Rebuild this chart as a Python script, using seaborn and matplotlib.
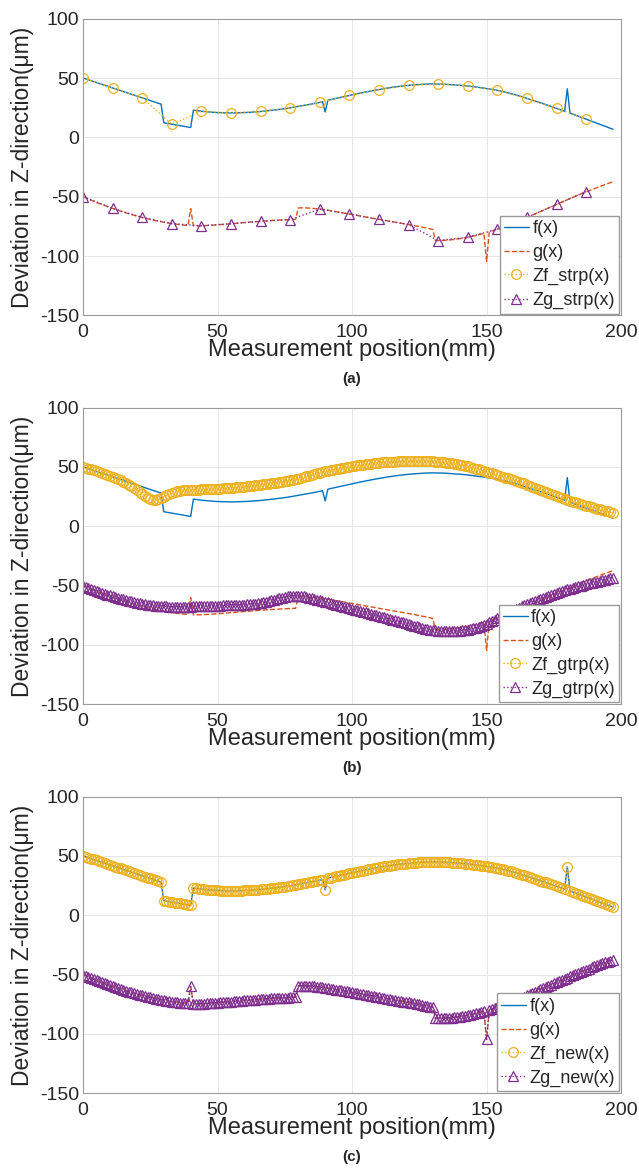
import matplotlib
matplotlib.use("Agg")
import matplotlib.pyplot as plt
import seaborn as sns

# measurement positions (mm)
x_pos = list(range(198))

# measured profiles
f_vals = [50.0, 49.2, 48.5, 47.7, 47.0, 46.2, 45.4, 44.7, 43.9, 43.2,
          42.4, 41.6, 40.9, 40.1, 39.4, 38.6, 37.8, 37.1, 36.3, 35.6,
          34.8, 34.0, 33.3, 32.5, 31.8, 31.0, 30.2, 29.5, 28.7, 28.0,
          12.3, 11.9, 11.5, 11.1, 10.7, 10.3, 9.9, 9.5, 9.1, 8.7,
          8.3, 22.9, 22.6, 22.3, 22.0, 21.8, 21.6, 21.4, 21.2, 21.0,
          20.9, 20.8, 20.7, 20.7, 20.6, 20.6, 20.6, 20.6, 20.7, 20.8,
          20.9, 21.0, 21.1, 21.3, 21.5, 21.6, 21.8, 22.0, 22.3, 22.5,
          22.8, 23.0, 23.3, 23.6, 23.9, 24.2, 24.5, 24.9, 25.3, 25.7,
          26.1, 26.5, 26.9, 27.3, 27.7, 28.1, 28.6, 29.0, 29.5, 30.0,
          21.4, 31.3, 31.8, 32.3, 32.8, 33.3, 33.8, 34.3, 34.8, 35.3,
          35.8, 36.3, 36.8, 37.3, 37.7, 38.2, 38.6, 39.1, 39.5, 39.9,
          40.3, 40.7, 41.1, 41.5, 41.8, 42.2, 42.5, 42.8, 43.1, 43.3,
          43.6, 43.8, 44.0, 44.2, 44.4, 44.5, 44.7, 44.8, 44.9, 45.0,
          45.0, 45.0, 44.9, 44.9, 44.8, 44.7, 44.5, 44.4, 44.2, 44.0,
          43.9, 43.7, 43.5, 43.3, 43.0, 42.7, 42.4, 42.1, 41.8, 41.5,
          41.1, 40.8, 40.4, 40.0, 39.6, 39.1, 38.6, 38.1, 37.5, 36.9,
          36.3, 35.7, 35.0, 34.3, 33.6, 32.8, 32.1, 31.4, 30.6, 29.9,
          29.1, 28.4, 27.6, 26.8, 26.0, 25.2, 24.4, 23.6, 22.8, 22.0,
          41.0, 20.4, 19.6, 18.7, 17.9, 17.0, 16.2, 15.3, 14.5, 13.6,
          12.8, 11.9, 11.1, 10.2, 9.4, 8.5, 7.7, 6.8]

g_vals = [-50.0, -51.0, -52.0, -52.9, -53.9, -54.8, -55.7, -56.6, -57.5, -58.3,
          -59.1, -59.9, -60.7, -61.5, -62.2, -63.0, -63.7, -64.4, -65.0, -65.7,
          -66.3, -66.9, -67.5, -68.1, -68.7, -69.2, -69.7, -70.2, -70.7, -71.1,
          -71.5, -71.9, -72.3, -72.7, -73.0, -73.3, -73.6, -73.9, -74.1, -74.3,
          -60.0, -74.6, -74.6, -74.6, -74.5, -74.4, -74.3, -74.2, -74.0, -73.9,
          -73.7, -73.5, -73.4, -73.2, -73.0, -72.8, -72.6, -72.4, -72.2, -72.0,
          -71.8, -71.6, -71.4, -71.3, -71.1, -70.9, -70.7, -70.6, -70.4, -70.3,
          -70.1, -70.0, -69.9, -69.7, -69.6, -69.5, -69.4, -69.3, -69.2, -69.1,
          -59.5, -59.4, -59.4, -59.5, -59.6, -59.8, -60.0, -60.2, -60.5, -60.8,
          -61.1, -61.5, -61.8, -62.2, -62.6, -63.0, -63.4, -63.8, -64.2, -64.6,
          -65.0, -65.4, -65.8, -66.3, -66.7, -67.1, -67.5, -67.9, -68.3, -68.7,
          -69.1, -69.5, -69.9, -70.3, -70.7, -71.1, -71.5, -71.9, -72.3, -72.7,
          -73.1, -73.5, -73.9, -74.3, -74.8, -75.2, -75.7, -76.1, -76.6, -77.1,
          -77.6, -87.0, -87.0, -86.9, -86.8, -86.7, -86.5, -86.3, -86.0, -85.7,
          -85.4, -85.0, -84.6, -84.2, -83.7, -83.2, -82.7, -82.1, -81.5, -80.9,
          -104.5, -79.6, -78.9, -78.2, -77.4, -76.6, -75.8, -75.0, -74.1, -73.2,
          -72.3, -71.4, -70.4, -69.5, -68.5, -67.5, -66.5, -65.5, -64.5, -63.5,
          -62.5, -61.5, -60.5, -59.5, -58.5, -57.5, -56.5, -55.5, -54.5, -53.5,
          -52.5, -51.5, -50.5, -49.6, -48.6, -47.7, -46.7, -45.8, -44.9, -44.0,
          -43.1, -42.3, -41.4, -40.6, -39.8, -39.0, -38.2, -37.4]

# gtrp reconstruction (panel b)
zf_gtrp = [50.0, 49.3, 48.6, 47.9, 47.2, 46.5, 45.8, 45.0, 44.3, 43.5,
           42.6, 41.6, 40.6, 39.6, 38.6, 37.5, 36.4, 35.2, 34.0, 32.4,
           30.6, 28.8, 27.0, 25.4, 24.0, 23.0, 22.5, 22.4, 22.8, 23.6,
           24.8, 26.2, 27.4, 28.3, 29.0, 29.6, 30.0, 30.3, 30.5, 30.7,
           30.8, 30.9, 31.0, 31.0, 31.1, 31.2, 31.3, 31.4, 31.5, 31.6,
           31.7, 31.8, 32.0, 32.1, 32.3, 32.4, 32.6, 32.7, 32.9, 33.1,
           33.3, 33.6, 33.8, 34.1, 34.4, 34.7, 35.0, 35.3, 35.6, 35.9,
           36.2, 36.5, 36.8, 37.1, 37.4, 37.8, 38.2, 38.6, 39.0, 39.5,
           40.0, 40.6, 41.3, 42.0, 42.7, 43.3, 43.9, 44.5, 45.1, 45.7,
           46.2, 46.7, 47.2, 47.7, 48.2, 48.7, 49.1, 49.5, 49.9, 50.3,
           50.7, 51.0, 51.4, 51.7, 52.0, 52.3, 52.6, 52.9, 53.2, 53.4,
           53.6, 53.8, 54.0, 54.2, 54.3, 54.5, 54.6, 54.7, 54.8, 54.9,
           55.0, 55.0, 55.1, 55.1, 55.1, 55.1, 55.0, 55.0, 54.9, 54.8,
           54.7, 54.5, 54.4, 54.2, 54.0, 53.7, 53.4, 53.1, 52.7, 52.3,
           51.9, 51.4, 50.9, 50.4, 49.9, 49.3, 48.7, 48.1, 47.4, 46.7,
           46.0, 45.3, 44.6, 43.9, 43.2, 42.5, 41.8, 41.1, 40.4, 39.7,
           39.0, 38.3, 37.6, 36.9, 36.1, 35.2, 34.3, 33.4, 32.5, 31.6,
           30.7, 29.8, 28.9, 28.0, 27.1, 26.2, 25.3, 24.4, 23.6, 22.9,
           22.2, 21.5, 20.8, 20.1, 19.4, 18.7, 18.0, 17.3, 16.7, 16.1,
           15.5, 14.9, 14.3, 13.7, 13.1, 12.5, 11.9, 11.3]

zg_gtrp = [-50.0, -50.9, -51.8, -52.7, -53.6, -54.4, -55.2, -56.0, -56.8, -57.5,
           -58.2, -58.9, -59.6, -60.3, -60.9, -61.5, -62.1, -62.7, -63.3, -63.8,
           -64.3, -64.8, -65.2, -65.6, -66.0, -66.3, -66.6, -66.9, -67.1, -67.3,
           -67.4, -67.5, -67.6, -67.6, -67.7, -67.7, -67.7, -67.7, -67.7, -67.6,
           -67.6, -67.5, -67.5, -67.4, -67.3, -67.2, -67.2, -67.1, -67.0, -66.9,
           -66.9, -66.8, -66.7, -66.6, -66.5, -66.4, -66.3, -66.2, -66.1, -66.0,
           -65.9, -65.8, -65.6, -65.4, -65.2, -65.0, -64.6, -64.1, -63.5, -62.9,
           -62.3, -61.7, -61.1, -60.5, -60.0, -59.5, -59.1, -58.8, -58.6, -58.5,
           -58.6, -58.8, -59.1, -59.5, -60.0, -60.6, -61.2, -61.8, -62.4, -63.0,
           -63.6, -64.2, -64.8, -65.4, -66.0, -66.6, -67.2, -67.8, -68.4, -69.0,
           -69.6, -70.2, -70.8, -71.4, -72.0, -72.6, -73.2, -73.8, -74.4, -75.0,
           -75.6, -76.2, -76.8, -77.4, -78.0, -78.6, -79.2, -79.8, -80.4, -81.0,
           -81.6, -82.2, -82.9, -83.6, -84.3, -85.0, -85.6, -86.2, -86.7, -87.1,
           -87.5, -87.8, -88.0, -88.2, -88.3, -88.4, -88.4, -88.4, -88.3, -88.2,
           -88.0, -87.7, -87.4, -87.0, -86.6, -86.1, -85.5, -84.8, -84.0, -83.1,
           -82.1, -81.0, -79.8, -78.6, -77.4, -76.2, -75.0, -73.8, -72.7, -71.6,
           -70.5, -69.5, -68.5, -67.5, -66.5, -65.5, -64.5, -63.6, -62.7, -61.8,
           -60.9, -60.0, -59.2, -58.4, -57.6, -56.8, -56.0, -55.3, -54.6, -53.9,
           -53.2, -52.5, -51.8, -51.2, -50.6, -50.0, -49.4, -48.8, -48.2, -47.7,
           -47.1, -46.6, -46.1, -45.5, -45.0, -44.4, -43.8, -43.2]

# strp samples every 11 mm (0 ... 187 mm), taken from the measured profiles
strp_x = x_pos[0:188:11]
zf_strp = f_vals[0:188:11]
zg_strp = g_vals[0:188:11]

panel_tags = ["(a)", "(b)", "(c)"]
method_names = ["strp", "gtrp", "new"]
panel_series = [
    (strp_x, zf_strp, strp_x, zg_strp),
    (x_pos, zf_gtrp, x_pos, zg_gtrp),
    (x_pos, f_vals, x_pos, g_vals),
]

sns.set_theme(style="whitegrid")
plt.rcParams["font.family"] = ["Liberation Sans", "DejaVu Sans"]
plt.rcParams["axes.unicode_minus"] = False

# MATLAB default colours
c_f = "#0072BD"
c_g = "#D95319"
c_zf = "#EDB120"
c_zg = "#7E2F8E"
txt = "#262626"

fig = plt.figure(figsize=(6.39, 11.68), dpi=100)
bottoms = [0.730, 0.397, 0.064]

for i in range(3):
    ax = fig.add_axes([0.130, bottoms[i], 0.842, 0.254])
    zf_x, zf_y, zg_x, zg_y = panel_series[i]
    name = method_names[i]

    sns.lineplot(x=x_pos, y=f_vals, ax=ax, color=c_f, lw=1.0, label="f(x)")
    sns.lineplot(x=x_pos, y=g_vals, ax=ax, color=c_g, lw=1.0, linestyle="--",
                 label="g(x)")
    sns.lineplot(x=zf_x, y=zf_y, ax=ax, color=c_zf, lw=1.0, linestyle=":",
                 marker="o", ms=7, markerfacecolor="none", markeredgecolor=c_zf,
                 markeredgewidth=0.9, label=f"Zf_{name}(x)")
    sns.lineplot(x=zg_x, y=zg_y, ax=ax, color=c_zg, lw=1.0, linestyle=":",
                 marker="^", ms=7, markerfacecolor="none", markeredgecolor=c_zg,
                 markeredgewidth=0.9, label=f"Zg_{name}(x)")

    ax.set_xlim(0, 200)
    ax.set_ylim(-150, 100)
    ax.set_xticks([0, 50, 100, 150, 200])
    ax.set_yticks([-150, -100, -50, 0, 50, 100])
    ax.grid(True, color="#e6e6e6", lw=0.7)
    for sp in ax.spines.values():
        sp.set_color("#9a9a9a")
        sp.set_linewidth(0.8)
    ax.tick_params(labelsize=14, colors=txt, direction="in", length=3,
                   color="#9a9a9a")
    ax.tick_params(axis="x", pad=6)
    ax.tick_params(axis="y", pad=3)
    ax.set_xlabel("Measurement position(mm)", fontsize=17, color=txt,
                  labelpad=-1)
    ax.set_ylabel("Deviation in Z-direction(μm)", fontsize=16.5, color=txt,
                  labelpad=4)
    ax.text(0.5, -0.215, panel_tags[i], transform=ax.transAxes, ha="center",
            va="center", fontsize=11, fontweight="bold", color=txt)

    ax.legend(loc="lower right", fontsize=13, frameon=True, fancybox=False,
              edgecolor="#9a9a9a", framealpha=1, borderaxespad=0.1,
              handlelength=1.35, handletextpad=0.2, borderpad=0.25,
              labelspacing=0.38, numpoints=1)

plt.savefig("out.png", dpi=100)
